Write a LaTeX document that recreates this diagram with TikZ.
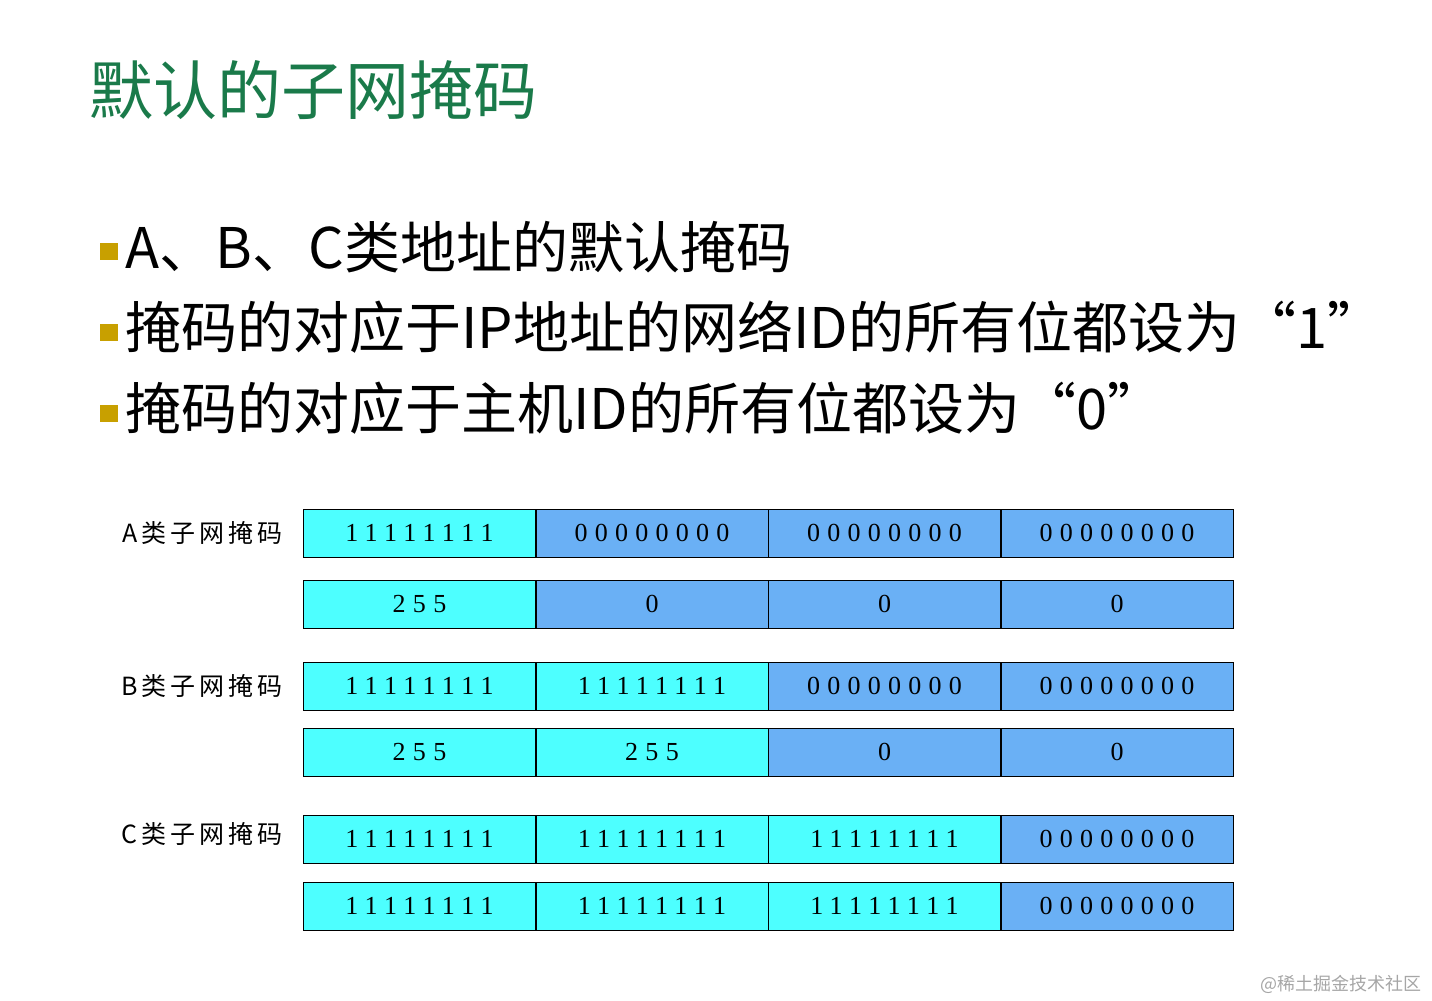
\documentclass[tikz,border=0pt]{standalone}
\usepackage{fontspec}
\setmainfont{Liberation Sans}
\newfontfamily\cjk{Noto Sans CJK SC}
\newfontfamily\cellfont[LetterSpace=28]{Liberation Serif}
\newfontfamily\lblfont[LetterSpace=16]{Noto Sans CJK SC}
\definecolor{netc}{HTML}{4DFFFF}
\definecolor{hostc}{HTML}{6AB0F5}
\definecolor{titlec}{HTML}{1A7A4A}
\definecolor{bulletc}{HTML}{C8A000}
\tikzstyle{net}=[draw=black,fill=netc,minimum width=232pt,minimum height=48pt,inner sep=0pt,font=\cellfont\fontsize{26}{26}\selectfont]
\tikzstyle{host}=[net,fill=hostc]
\tikzstyle{lbl}=[anchor=east,font=\lblfont\fontsize{25}{25}\selectfont]
\tikzstyle{item}=[anchor=base west,font=\cjk\fontsize{56}{56}\selectfont]

\begin{document}
\begin{tikzpicture}[x=1pt,y=-1pt]
\useasboundingbox (0,0) rectangle (1432,1001);
\node (title) at (86,90) [anchor=west,text=titlec,font=\cjk\fontsize{64}{64}\selectfont] {默认的子网掩码};

\node (i1) at (122,268) [item] {A、B、C类地址的默认掩码};
\node (i2) at (122,348) [item] {掩码的对应于IP地址的网络ID的所有位都设为“1”};
\node (i3) at (122,429) [item] {掩码的对应于主机ID的所有位都设为“0”};
\foreach \y in {243,324,405} \fill[bulletc] (100,\y) rectangle (118,\y+17);

\node (la) at (286,533) [lbl] {A类子网掩码};
\node (lb) at (286,686) [lbl] {B类子网掩码};
\node (lc) at (286,834) [lbl] {C类子网掩码};

% A class
\node (a11) at (419.5,533) [net]  {11111111};
\node (a12) at (652,533)   [host] {00000000};
\node (a13) at (884.5,533) [host] {00000000};
\node (a14) at (1117,533)  [host] {00000000};
\node (a21) at (419.5,604) [net]  {255};
\node (a22) at (652,604)   [host] {0};
\node (a23) at (884.5,604) [host] {0};
\node (a24) at (1117,604)  [host] {0};

% B class
\node (b11) at (419.5,686) [net]  {11111111};
\node (b12) at (652,686)   [net]  {11111111};
\node (b13) at (884.5,686) [host] {00000000};
\node (b14) at (1117,686)  [host] {00000000};
\node (b21) at (419.5,752) [net]  {255};
\node (b22) at (652,752)   [net]  {255};
\node (b23) at (884.5,752) [host] {0};
\node (b24) at (1117,752)  [host] {0};

% C class
\node (c11) at (419.5,839) [net]  {11111111};
\node (c12) at (652,839)   [net]  {11111111};
\node (c13) at (884.5,839) [net]  {11111111};
\node (c14) at (1117,839)  [host] {00000000};
\node (c21) at (419.5,906) [net]  {11111111};
\node (c22) at (652,906)   [net]  {11111111};
\node (c23) at (884.5,906) [net]  {11111111};
\node (c24) at (1117,906)  [host] {00000000};

\node (mark) at (1425,984) [anchor=east,text=gray!70,font=\cjk\fontsize{18}{18}\selectfont] {@稀土掘金技术社区};
\end{tikzpicture}
\end{document}
